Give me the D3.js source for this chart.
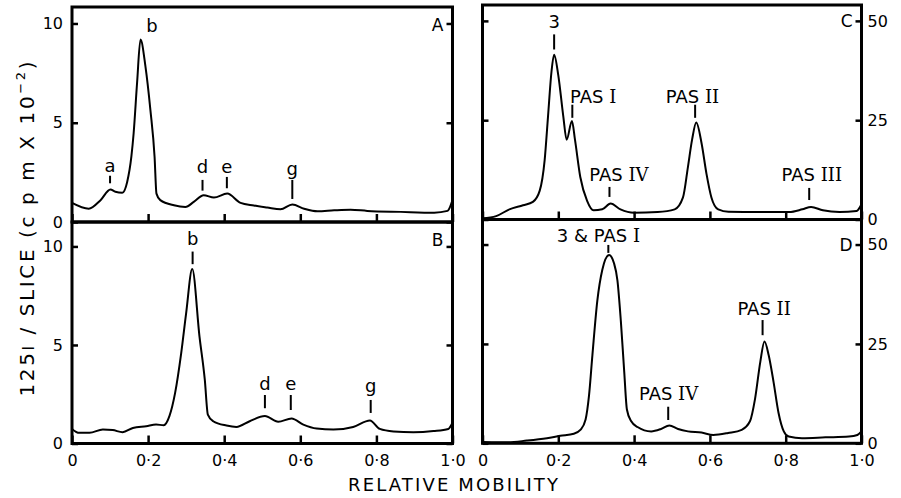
<!DOCTYPE html>
<html><head><meta charset="utf-8">
<script src="https://cdn.jsdelivr.net/npm/d3@7"></script>
<style>body{margin:0;background:#fff}svg{display:block}</style>
</head><body><svg id="c" width="901" height="498"></svg>
<script>
// ---------- data ----------
const mobA = [0, .044, .075, .101, .114, .132, .145, .156, .162, .171, .180, .193, .206, .217, .222, .232, .268, .298, .320, .346, .373, .408, .443, .478, .513, .548, .579, .610, .645, .689, .732, .776, .864, .952, .987, 1.0];
const valA = [0.96, 0.67, 1.10, 1.64, 1.52, 1.47, 2.02, 3.29, 4.47, 7.0, 9.19, 7.84, 5.65, 3.29, 1.43, 1.10, 0.84, 0.76, 1.01, 1.35, 1.23, 1.43, 0.96, 0.83, 0.73, 0.64, 0.88, 0.67, 0.54, 0.59, 0.62, 0.56, 0.51, 0.47, 0.56, 1.10];

const mobB = [0, .019, .046, .081, .107, .133, .160, .195, .221, .241, .256, .271, .287, .300, .316, .335, .349, .357, .371, .406, .432, .467, .507, .542, .577, .608, .643, .687, .739, .783, .809, .845, .897, .950, .989, 1.0];
const valB = [0.74, 0.54, 0.54, 0.71, 0.68, 0.57, 0.79, 0.88, 0.96, 0.93, 1.39, 2.57, 4.59, 6.62, 8.85, 5.44, 3.24, 1.47, 1.13, 0.91, 0.84, 1.13, 1.39, 1.10, 1.27, 0.96, 0.76, 0.71, 0.84, 1.17, 0.74, 0.61, 0.57, 0.63, 0.74, 1.05];

const mobC = [0, .036, .071, .107, .133, .151, .164, .173, .182, .189, .200, .213, .222, .236, .244, .258, .276, .293, .316, .338, .364, .400, .462, .507, .529, .542, .553, .564, .578, .591, .604, .622, .649, .729, .809, .844, .867, .898, .942, .987, 1.0];
const valC = [0.3, 0.85, 2.56, 3.59, 4.44, 7.26, 14.96, 26.1, 37.2, 41.5, 36.3, 26.1, 20.1, 24.8, 20.1, 10.7, 4.70, 2.31, 2.56, 4.02, 2.56, 1.71, 1.88, 2.56, 5.56, 13.2, 20.1, 24.4, 19.2, 11.5, 5.56, 2.56, 1.97, 1.88, 1.88, 2.56, 3.16, 2.31, 1.88, 2.14, 3.85];

const mobD = [0, .064, .117, .170, .205, .241, .259, .272, .281, .290, .303, .316, .334, .347, .356, .365, .374, .381, .392, .409, .445, .471, .493, .516, .542, .578, .609, .648, .684, .706, .719, .733, .744, .755, .768, .781, .795, .808, .843, .905, .967, .989, 1.0];
const valD = [0.3, 0.26, 0.68, 1.28, 1.88, 2.39, 3.42, 5.98, 11.97, 22.2, 35.9, 43.6, 47.4, 45.3, 41.0, 30.8, 17.9, 8.5, 5.6, 4.1, 3.0, 3.6, 4.5, 3.6, 3.0, 2.7, 2.1, 2.6, 3.4, 5.6, 11.1, 20.5, 25.6, 22.2, 15.4, 7.7, 3.0, 1.7, 1.3, 1.5, 1.7, 2.1, 3.0];

// tick labels
const xTickValues = [0, 0.2, 0.4, 0.6, 0.8, 1.0];
const yTicksLeft = [0, 5, 10];
const yTicksRight = [0, 25, 50];

// peak annotations (mobility, tick low/high and label baseline in data units)
const annA = [
  {t:"a", m:.100, lo:1.95, hi:2.33, ty:2.52},
  {t:"b", m:.210, ty:9.57},
  {t:"d", m:.343, lo:1.58, hi:2.12, ty:2.47},
  {t:"e", m:.407, lo:1.70, hi:2.27, ty:2.47},
  {t:"g", m:.579, lo:1.16, hi:2.12, ty:2.39}
];
const annB = [
  {t:"b", m:.317, lo:9.10, hi:9.74, ty:10.08},
  {t:"d", m:.507, lo:1.79, hi:2.46, ty:2.72},
  {t:"e", m:.575, lo:1.70, hi:2.46, ty:2.72},
  {t:"g", m:.785, lo:1.55, hi:2.21, ty:2.61}
];
const annC = [
  {t:"3", m:.189, lo:42.8, hi:46.6, ty:48.1},
  {t:"PAS ", r:"I", m:.237, lm:.292, lo:25.6, hi:28.9, ty:29.3},
  {t:"PAS ", r:"II", m:.561, lm:.554, lo:25.6, hi:28.9, ty:29.3},
  {t:"PAS ", r:"IV", m:.335, lm:.360, lo:5.68, hi:8.2, ty:9.6},
  {t:"PAS ", r:"III", m:.862, lm:.869, lo:4.9, hi:7.95, ty:9.6}
];
const annD = [
  {t:"3 & PAS ", r:"I", m:.332, lm:.306, lo:47.9, hi:49.9, ty:50.75},
  {t:"PAS ", r:"II", m:.739, lm:.743, lo:27.2, hi:31.0, ty:32.4},
  {t:"PAS ", r:"IV", m:.490, lm:.491, lo:5.86, hi:9.2, ty:11.0}
];

// ---------- layout ----------
const FONT = "DejaVu Sans";
const panels = [
  {id:"A", mob:mobA, val:valA, ann:annA, x0:72, x1:452.5, top:7, bottom:222, ymax:10.83, yt:yTicksLeft, side:"left", showX:false, letterDy:7.5, topTick:10},
  {id:"B", mob:mobB, val:valB, ann:annB, x0:72, x1:452.5, top:222, bottom:443.5, ymax:11.24, yt:yTicksLeft, side:"left", showX:true, letterDy:0, topTick:10},
  {id:"C", mob:mobC, val:valC, ann:annC, x0:482.5, x1:861.5, top:5, bottom:219.5, ymax:54.0, yt:yTicksRight, side:"right", showX:false, letterDy:6.5, topTick:50},
  {id:"D", mob:mobD, val:valD, ann:annD, x0:482.5, x1:861.5, top:219.5, bottom:443.3, ymax:56.3, yt:yTicksRight, side:"right", showX:true, letterDy:6.5, topTick:50}
];

const svg = d3.select("#c");
const fmtX = d => d === 0 ? "0" : d3.format(".1f")(d).replace(".", "\u00b7");

panels.forEach(p => {
  const x = d3.scaleLinear().domain([0, 1]).range([p.x0, p.x1]);
  const y = d3.scaleLinear().domain([0, p.ymax]).range([p.bottom, p.top]);
  const g = svg.append("g");

  // curve
  const pts = p.mob.map((m, i) => [m, p.val[i]]);
  g.append("path").datum(pts)
    .attr("d", d3.line().x(d => x(d[0])).y(d => y(d[1])).curve(d3.curveMonotoneX))
    .attr("fill", "none").attr("stroke", "#000").attr("stroke-width", 2)
    .attr("stroke-linejoin", "round");

  // axes
  const styleAxis = sel => {
    sel.select(".domain").remove();
    sel.selectAll(".tick line").attr("stroke", "#000").attr("stroke-width", 2.5);
    sel.selectAll(".tick text").attr("font-family", FONT).attr("font-size", 16).attr("fill", "#000");
  };
  const leftAx = d3.axisLeft(y).tickValues(p.yt).tickSize(-6).tickPadding(9)
    .tickFormat(p.side === "left" ? d3.format("d") : "");
  g.append("g").attr("transform", `translate(${p.x0},0)`).call(leftAx).call(styleAxis);
  const rightAx = d3.axisRight(y).tickValues(p.yt).tickSize(-6).tickPadding(6)
    .tickFormat(p.side === "right" ? d3.format("d") : "");
  g.append("g").attr("transform", `translate(${p.x1},0)`).call(rightAx).call(styleAxis);
  const botAx = d3.axisBottom(x).tickValues(xTickValues).tickSize(-8).tickPadding(11)
    .tickFormat(p.showX ? fmtX : "");
  g.append("g").attr("transform", `translate(0,${p.bottom})`).call(botAx).call(styleAxis);

  // frame
  g.append("rect").attr("x", p.x0).attr("y", p.top)
    .attr("width", p.x1 - p.x0).attr("height", p.bottom - p.top)
    .attr("fill", "none").attr("stroke", "#000").attr("stroke-width", 3);

  // panel letter
  g.append("text").attr("x", p.x1 - 9).attr("y", y(p.topTick) + p.letterDy)
    .attr("text-anchor", "end").attr("font-family", FONT).attr("font-size", 17)
    .text(p.id);

  // annotations
  p.ann.forEach(a => {
    if (a.lo !== undefined) {
      g.append("line").attr("x1", x(a.m)).attr("x2", x(a.m))
        .attr("y1", y(a.lo)).attr("y2", y(a.hi))
        .attr("stroke", "#000").attr("stroke-width", 2);
    }
    const t = g.append("text").attr("x", x(a.lm !== undefined ? a.lm : a.m)).attr("y", y(a.ty))
      .attr("text-anchor", "middle").attr("font-family", FONT).attr("font-size", 18);
    t.append("tspan").text(a.t);
    if (a.r) t.append("tspan").attr("font-family", "DejaVu Serif").text(a.r);
  });
});

// axis titles
svg.append("text").attr("x", 453).attr("y", 491).attr("text-anchor", "middle")
  .attr("font-family", FONT).attr("font-size", 18)
  .attr("textLength", 210).attr("lengthAdjust", "spacing")
  .text("RELATIVE MOBILITY");

const yl = svg.append("text").attr("transform", "translate(34,229) rotate(-90)")
  .attr("text-anchor", "middle").attr("font-family", FONT).attr("font-size", 20)
  .attr("textLength", 335).attr("lengthAdjust", "spacing");
yl.append("tspan").text("125");
yl.append("tspan").attr("font-size", 15).text("I");
yl.append("tspan").text(" / SLICE (c p m X 10");
yl.append("tspan").attr("font-size", 13).attr("dy", -9).text("\u22122");
yl.append("tspan").attr("dy", 9).text(")");
</script></body></html>
